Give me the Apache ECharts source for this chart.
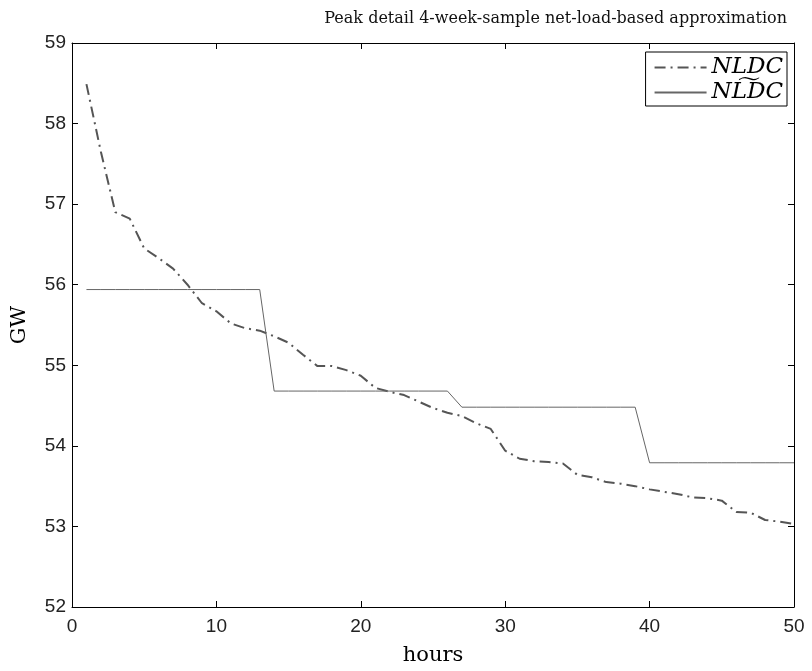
<!DOCTYPE html>
<html>
<head>
<meta charset="utf-8">
<script src="https://cdn.jsdelivr.net/npm/echarts@6/dist/echarts.min.js"></script>
<style>html,body{margin:0;padding:0;background:#fff}#c{width:812px;height:671px}</style>
</head>
<body>
<div id="c"></div>
<script>
const hours = [1,2,3,4,5,6,7,8,9,10,11,12,13,14,15,16,17,18,19,20,21,22,23,24,25,26,27,28,29,30,31,32,33,34,35,36,37,38,39,40,41,42,43,44,45,46,47,48,49,50];
const nldc = [58.49,57.65,56.90,56.82,56.45,56.33,56.20,56.00,55.77,55.67,55.52,55.46,55.43,55.36,55.28,55.13,54.99,54.99,54.94,54.87,54.72,54.67,54.63,54.55,54.47,54.41,54.37,54.28,54.21,53.94,53.84,53.81,53.80,53.78,53.64,53.61,53.55,53.53,53.50,53.46,53.43,53.40,53.36,53.35,53.32,53.18,53.17,53.08,53.06,53.03];
const approx = [55.94,55.94,55.94,55.94,55.94,55.94,55.94,55.94,55.94,55.94,55.94,55.94,55.94,54.68,54.68,54.68,54.68,54.68,54.68,54.68,54.68,54.68,54.68,54.68,54.68,54.68,54.48,54.48,54.48,54.48,54.48,54.48,54.48,54.48,54.48,54.48,54.48,54.48,54.48,53.79,53.79,53.79,53.79,53.79,53.79,53.79,53.79,53.79,53.79,53.79];
const xTicks = [0,10,20,30,40,50];
const yTicks = [52,53,54,55,56,57,58,59];
const titleText = 'Peak detail 4-week-sample net-load-based approximation';

const chart = echarts.init(document.getElementById('c'));
const labelFont = {fontFamily:'Liberation Sans', fontSize:19, color:'#222'};
const axisLineStyle = {lineStyle:{color:'#000', width:1}};
const common = {
  axisLine:{show:true, onZero:false, ...axisLineStyle},
  axisTick:{show:true, inside:true, length:6, lineStyle:{color:'#000'}},
  splitLine:{show:false}
};
chart.setOption({
  animation:false,
  backgroundColor:'#fff',
  title:{text:titleText, right:20, top:6, textStyle:{fontFamily:'DejaVu Serif', fontSize:16, fontWeight:'normal', color:'#111'}},
  grid:{left:72, top:43, right:18, bottom:60},
  legend:{
    right:25, top:52, orient:'vertical', itemGap:2, itemWidth:52, itemHeight:12,
    borderColor:'#000', borderWidth:1, borderRadius:0, backgroundColor:'#fff', padding:[4,4,2,8],
    itemStyle:{opacity:0},
    data:['NLDC','NLDC approx'],
    formatter: function(n){ return n === 'NLDC' ? 'NLDC' : 'NL\u0360DC'; },
    textStyle:{fontFamily:'DejaVu Serif', fontStyle:'italic', fontSize:23, color:'#000'}
  },
  xAxis:[
    {type:'value', min:0, max:50, interval:10, position:'bottom', ...common,
     axisLabel:{...labelFont, margin:10},
     name:'hours', nameLocation:'middle', nameGap:38,
     nameTextStyle:{fontFamily:'DejaVu Serif', fontSize:21, color:'#000'}},
    {type:'value', min:0, max:50, interval:10, position:'top', ...common, axisLabel:{show:false}}
  ],
  yAxis:[
    {type:'value', min:52, max:59, interval:1, position:'left', ...common,
     axisLabel:{...labelFont, margin:6},
     name:'GW', nameLocation:'middle', nameGap:42, nameRotate:90,
     nameTextStyle:{fontFamily:'DejaVu Serif', fontSize:21, color:'#000'}},
    {type:'value', min:52, max:59, interval:1, position:'right', ...common, axisLabel:{show:false}}
  ],
  series:[
    {name:'NLDC', type:'line', data:hours.map((h,i)=>[h,nldc[i]]), showSymbol:false, symbol:'none',
     lineStyle:{color:'#555', width:2, type:[11,5,2,5]}, itemStyle:{color:'#555'}},
    {name:'NLDC approx', type:'line', data:hours.map((h,i)=>[h,approx[i]]), showSymbol:false, symbol:'none',
     lineStyle:{color:'#666', width:1, type:'solid'}, itemStyle:{color:'#666'}}
  ]
});
</script>
</body>
</html>
